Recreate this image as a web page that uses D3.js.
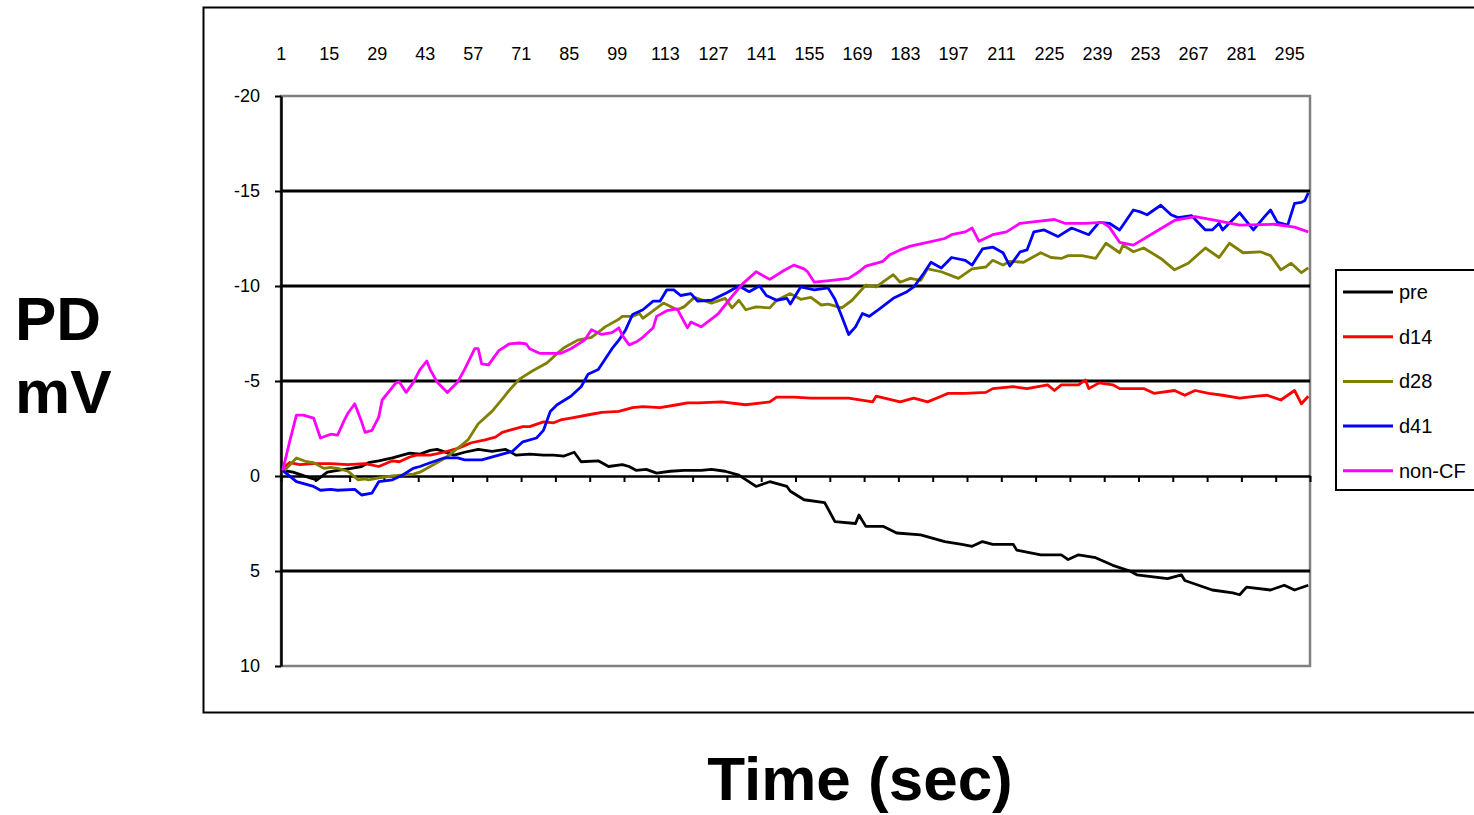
<!DOCTYPE html>
<html>
<head>
<meta charset="utf-8">
<script src="https://cdn.jsdelivr.net/npm/d3@7"></script>
<style>
 body { margin: 0; background: #fff; }
 text { font-family: Arial, 'Liberation Sans', sans-serif; }
</style>
</head>
<body>
<svg width="1474" height="815"></svg>
<script>

// Data: [second, PD mV] for each series.

var pre = [[1,-0.3],[4,-0.2],[9,0.1],[11,0.2],[14,-0.2],[17,-0.3],[21,-0.4],[24,-0.5],[26,-0.7],[29,-0.8],[33,-0.95],[38,-1.2],[41,-1.15],[44,-1.35],[46,-1.4],[51,-1.1],[54,-1.25],[58,-1.4],[62,-1.3],[66,-1.4],[69,-1.1],[73,-1.15],[77,-1.1],[80,-1.1],[83,-1.05],[86,-1.25],[88,-0.75],[93,-0.8],[96,-0.5],[100,-0.6],[102,-0.5],[104,-0.3],[107,-0.35],[110,-0.15],[114,-0.25],[118,-0.3],[123,-0.3],[126,-0.35],[130,-0.25],[134,-0.05],[139,0.55],[143,0.3],[148,0.55],[149,0.8],[153,1.25],[159,1.4],[162,2.4],[168,2.5],[169,2.05],[171,2.65],[176,2.65],[180,3.0],[187,3.1],[194,3.45],[199,3.6],[202,3.7],[205,3.45],[208,3.6],[214,3.6],[215,3.9],[222,4.15],[228,4.15],[230,4.4],[233,4.15],[238,4.3],[243,4.7],[248,5.0],[250,5.2],[259,5.4],[263,5.2],[264,5.5],[272,6.0],[278,6.15],[280,6.25],[282,5.85],[289,6.0],[293,5.75],[296,6.0],[300,5.75]];

var d14 = [[1,-0.4],[3,-0.7],[6,-0.6],[10,-0.65],[15,-0.65],[20,-0.6],[25,-0.65],[29,-0.5],[33,-0.8],[35,-0.75],[38,-1.0],[40,-1.1],[44,-1.1],[48,-1.25],[52,-1.45],[54,-1.6],[56,-1.75],[60,-1.9],[63,-2.05],[65,-2.3],[67,-2.4],[71,-2.6],[73,-2.6],[77,-2.85],[80,-2.8],[82,-2.95],[85,-3.05],[91,-3.25],[94,-3.35],[99,-3.4],[103,-3.6],[106,-3.65],[111,-3.6],[116,-3.75],[119,-3.85],[122,-3.85],[129,-3.9],[136,-3.75],[143,-3.9],[145,-4.15],[150,-4.15],[155,-4.1],[159,-4.1],[166,-4.1],[173,-3.9],[174,-4.2],[181,-3.9],[185,-4.1],[189,-3.9],[193,-4.2],[195,-4.35],[200,-4.35],[206,-4.4],[208,-4.6],[214,-4.7],[218,-4.6],[224,-4.8],[226,-4.5],[228,-4.8],[233,-4.8],[235,-5.05],[236,-4.6],[239,-4.9],[243,-4.8],[245,-4.6],[252,-4.6],[255,-4.35],[261,-4.5],[264,-4.25],[267,-4.5],[271,-4.35],[275,-4.25],[280,-4.1],[285,-4.2],[288,-4.25],[292,-4.0],[296,-4.5],[298,-3.8],[300,-4.2]];

var d28 = [[1,-0.2],[5,-0.95],[8,-0.75],[10,-0.7],[11,-0.6],[13,-0.4],[15,-0.45],[17,-0.4],[20,-0.25],[22,0.05],[23,0.2],[25,0.15],[26,0.2],[29,0.1],[33,0.0],[39,-0.1],[41,-0.2],[44,-0.5],[48,-0.9],[53,-1.6],[55,-1.9],[58,-2.75],[62,-3.4],[65,-4.05],[67,-4.5],[70,-5.1],[74,-5.55],[78,-5.95],[81,-6.45],[83,-6.75],[87,-7.15],[91,-7.3],[94,-7.7],[95,-7.85],[99,-8.25],[100,-8.4],[103,-8.4],[105,-8.55],[106,-8.3],[112,-9.1],[116,-8.75],[118,-8.9],[121,-9.4],[126,-9.1],[130,-9.35],[132,-8.85],[134,-9.25],[136,-8.75],[139,-8.9],[143,-8.85],[145,-9.25],[149,-9.6],[152,-9.3],[155,-9.4],[158,-9.0],[160,-9.05],[164,-8.85],[167,-9.25],[171,-10.05],[174,-9.95],[179,-10.6],[181,-10.2],[184,-10.4],[187,-10.3],[189,-10.9],[193,-10.75],[198,-10.4],[202,-10.9],[206,-11.0],[208,-11.35],[211,-11.1],[213,-11.3],[217,-11.25],[222,-11.75],[225,-11.5],[228,-11.45],[230,-11.6],[234,-11.6],[238,-11.45],[241,-12.25],[245,-11.75],[246,-12.15],[249,-11.8],[252,-12.0],[257,-11.45],[261,-10.85],[265,-11.2],[270,-12.0],[274,-11.5],[277,-12.25],[281,-11.75],[286,-11.8],[289,-11.6],[292,-10.85],[295,-11.2],[298,-10.7],[300,-10.95]];

var d41 = [[1,-0.3],[5,0.3],[10,0.55],[12,0.75],[15,0.7],[17,0.75],[22,0.7],[24,1.0],[27,0.9],[29,0.3],[33,0.2],[36,-0.05],[39,-0.4],[41,-0.5],[44,-0.7],[48,-0.95],[52,-0.95],[54,-0.85],[59,-0.85],[64,-1.1],[68,-1.3],[71,-1.8],[75,-2.0],[77,-2.4],[79,-3.4],[81,-3.75],[85,-4.2],[88,-4.7],[90,-5.35],[93,-5.6],[97,-6.7],[99,-7.15],[101,-7.7],[103,-8.5],[106,-8.75],[109,-9.2],[111,-9.2],[113,-9.8],[115,-9.8],[117,-9.5],[120,-9.6],[122,-9.2],[126,-9.25],[130,-9.6],[131,-9.7],[134,-10.0],[137,-9.7],[140,-10.0],[142,-9.5],[145,-9.25],[148,-9.35],[149,-9.05],[152,-9.95],[156,-9.8],[160,-9.9],[162,-9.3],[164,-8.4],[166,-7.45],[168,-7.85],[170,-8.55],[172,-8.4],[175,-8.8],[179,-9.35],[183,-9.7],[185,-9.95],[188,-10.7],[190,-11.25],[193,-10.95],[196,-11.5],[200,-11.35],[202,-11.1],[205,-11.95],[208,-12.05],[211,-11.75],[213,-11.05],[216,-11.8],[218,-11.9],[220,-12.85],[223,-12.95],[227,-12.6],[231,-13.05],[236,-12.7],[239,-13.35],[242,-13.3],[245,-12.95],[249,-14.0],[251,-13.9],[253,-13.75],[257,-14.25],[260,-13.75],[262,-13.6],[266,-13.7],[270,-12.95],[272,-12.95],[274,-13.3],[275,-12.95],[280,-13.85],[284,-12.95],[287,-13.6],[289,-14.0],[291,-13.35],[294,-13.2],[296,-14.35],[298,-14.4],[299,-14.5],[300,-14.9]];

var nonCF = [[1,-0.3],[3,-1.8],[5,-3.2],[7,-3.2],[10,-3.05],[12,-2.0],[15,-2.2],[17,-2.15],[19,-2.95],[20,-3.3],[22,-3.8],[24,-2.85],[25,-2.3],[27,-2.4],[29,-3.1],[30,-4.0],[34,-4.9],[35,-4.95],[37,-4.4],[39,-4.9],[41,-5.6],[43,-6.05],[44,-5.6],[46,-4.95],[49,-4.4],[52,-4.95],[54,-5.6],[57,-6.7],[58,-6.7],[59,-5.9],[61,-5.85],[64,-6.6],[67,-6.95],[70,-7.0],[72,-6.95],[73,-6.7],[76,-6.45],[82,-6.45],[85,-6.7],[89,-7.15],[91,-7.7],[94,-7.45],[97,-7.55],[99,-7.8],[100,-7.4],[102,-6.9],[104,-7.05],[106,-7.3],[109,-7.8],[110,-8.4],[113,-8.7],[116,-8.8],[119,-7.8],[120,-8.1],[123,-7.85],[127,-8.4],[128,-8.55],[130,-9.0],[132,-9.45],[135,-10.1],[139,-10.75],[143,-10.35],[147,-10.8],[150,-11.1],[153,-10.9],[154,-10.75],[156,-10.2],[161,-10.3],[166,-10.4],[169,-10.75],[171,-11.05],[176,-11.3],[178,-11.65],[181,-11.9],[184,-12.1],[189,-12.3],[194,-12.5],[196,-12.7],[200,-12.85],[202,-13.05],[204,-12.35],[208,-12.7],[212,-12.85],[216,-13.3],[221,-13.4],[226,-13.5],[229,-13.3],[235,-13.3],[240,-13.35],[242,-13.1],[245,-12.3],[249,-12.15],[255,-12.8],[261,-13.45],[267,-13.65],[273,-13.45],[280,-13.2],[290,-13.25],[296,-13.1],[300,-12.85]];

var seriesNames = ['pre', 'd14', 'd28', 'd41', 'non-CF'];
var seriesData = [pre, d14, d28, d41, nonCF];
var seriesColors = ['#000000', '#ff0000', '#808000', '#0000ff', '#ff00ff'];

var xLabels = [1, 15, 29, 43, 57, 71, 85, 99, 113, 127, 141, 155, 169, 183, 197, 211, 225, 239, 253, 267, 281, 295];
var yTicks = [-20, -15, -10, -5, 0, 5, 10];
var gridValues = [-15, -10, -5, 5];

var svg = d3.select('svg');
var fontFamily = 'Arial, "Liberation Sans", sans-serif';

// Scales: one category per second, y inverted (negative PD at top).

var x = d3.scaleLinear().domain([0.5, 300.5]).range([281, 1310]);
var y = d3.scaleLinear().domain([-20, 10]).range([96, 666]);

// Outer chart frame.

svg.append('rect')
 .attr('x', 203.5).attr('y', 7.5)
 .attr('width', 1300).attr('height', 705)
 .attr('fill', 'none').attr('stroke', '#000').attr('stroke-width', 2);

// Plot area border (grey) and gridlines.

svg.append('rect')
 .attr('x', x.range()[0]).attr('y', y(-20))
 .attr('width', x.range()[1] - x.range()[0]).attr('height', y(10) - y(-20))
 .attr('fill', 'none').attr('stroke', '#808080').attr('stroke-width', 2.5);

svg.append('g')
 .selectAll('line')
 .data(gridValues)
 .enter().append('line')
 .attr('x1', x.range()[0]).attr('x2', x.range()[1])
 .attr('y1', y).attr('y2', y)
 .attr('stroke', '#000').attr('stroke-width', 3);

// Axes.

var yAxis = svg.append('g')
 .attr('transform', 'translate(' + x.range()[0] + ',0)')
 .call(d3.axisLeft(y).tickValues(yTicks).tickSize(6).tickSizeOuter(0).tickPadding(15)
  .tickFormat(function(d) { return String(d); }));
yAxis.select('.domain').attr('stroke-width', 2.5);
yAxis.selectAll('.tick line').attr('stroke-width', 2);
yAxis.selectAll('text').attr('font-size', 18).attr('fill', '#000').style('font-family', fontFamily);

var boundaries = d3.range(0, 31).map(function(k) { return 0.5 + k * 10; });
var zeroAxis = svg.append('g')
 .attr('transform', 'translate(0,' + y(0) + ')')
 .call(d3.axisBottom(x).tickValues(boundaries).tickFormat('').tickSize(6).tickSizeOuter(0));
zeroAxis.select('.domain').attr('stroke-width', 2.5);
zeroAxis.selectAll('.tick line').attr('stroke-width', 2);

var xAxis = svg.append('g')
 .attr('transform', 'translate(-2,63)')
 .call(d3.axisTop(x).tickValues(xLabels).tickSize(0).tickPadding(3));
xAxis.select('.domain').remove();
xAxis.selectAll('text').attr('font-size', 18).attr('fill', '#000').style('font-family', fontFamily);

// Draw the lines.

var line = d3.line()
 .x(function(d) { return x(d[0]); })
 .y(function(d) { return y(d[1]); });

svg.append('g')
 .selectAll('path')
 .data(seriesData)
 .enter().append('path')
 .attr('d', line)
 .attr('fill', 'none')
 .attr('stroke', function(d, i) { return seriesColors[i]; })
 .attr('stroke-width', 2.8)
 .attr('stroke-linejoin', 'round');

// Legend.

var legendBox = svg.append('g').attr('transform', 'translate(1336,270)');
legendBox.append('rect')
 .attr('x', 0).attr('y', 0).attr('width', 200).attr('height', 220)
 .attr('fill', '#fff').attr('stroke', '#000').attr('stroke-width', 2);

var legend = legendBox.selectAll('.item')
 .data(seriesNames)
 .enter().append('g')
 .attr('class', 'item')
 .attr('transform', function(d, i) { return 'translate(0,' + (22 + i * 44.7) + ')'; });

legend.append('line')
 .attr('x1', 7).attr('x2', 57)
 .attr('stroke', function(d, i) { return seriesColors[i]; })
 .attr('stroke-width', 3);

legend.append('text')
 .attr('x', 63).attr('dy', '0.35em')
 .attr('font-size', 20)
 .text(function(d) { return d; });

// Axis titles.

svg.append('text').attr('x', 15).attr('y', 340)
 .attr('font-size', 62).attr('font-weight', 'bold').text('PD');
svg.append('text').attr('x', 15).attr('y', 413)
 .attr('font-size', 62).attr('font-weight', 'bold').text('mV');
svg.append('text').attr('x', 860).attr('y', 800)
 .attr('text-anchor', 'middle')
 .attr('font-size', 62).attr('font-weight', 'bold').text('Time (sec)');

</script>
</body>
</html>
